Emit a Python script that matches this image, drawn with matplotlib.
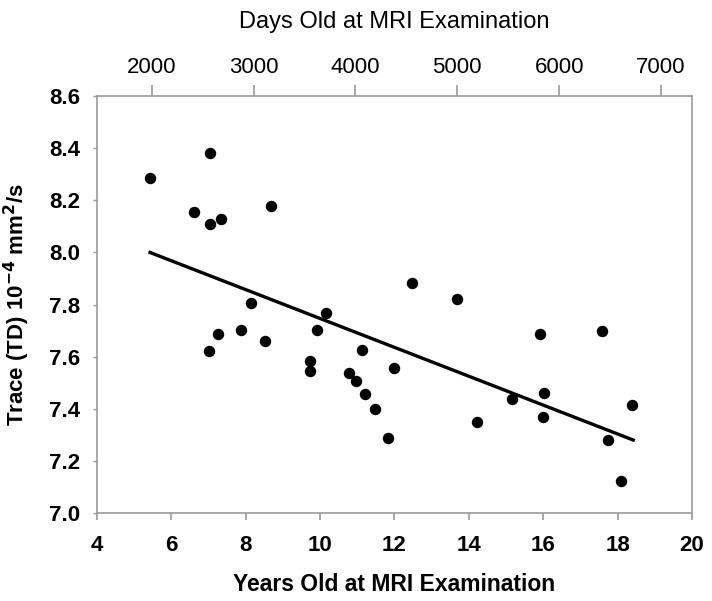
import matplotlib.pyplot as plt

# age in years and trace values
years = [5.43, 6.61, 7.04, 7.05, 7.34, 8.68, 7.01, 7.26, 7.87, 8.15,
         8.53, 9.72, 9.72, 9.93, 10.17, 10.78, 10.97, 11.13, 11.21, 11.48,
         11.83, 11.99, 12.46, 13.67, 14.22, 15.15, 15.91, 16.02, 15.99,
         17.57, 17.75, 18.09, 18.39]
trace = [8.287, 8.155, 8.383, 8.110, 8.129, 8.177, 7.623, 7.687, 7.703, 7.806,
         7.660, 7.582, 7.546, 7.701, 7.766, 7.537, 7.507, 7.627, 7.457, 7.400,
         7.289, 7.556, 7.881, 7.822, 7.348, 7.437, 7.686, 7.462, 7.367,
         7.697, 7.279, 7.123, 7.413]

# regression line end points
fit_x = [5.43, 18.42]
fit_y = [8.00, 7.28]

x_ticks = [4, 6, 8, 10, 12, 14, 16, 18, 20]
y_ticks = [7.0, 7.2, 7.4, 7.6, 7.8, 8.0, 8.2, 8.4, 8.6]
day_ticks = [2000, 3000, 4000, 5000, 6000, 7000]

plt.rcParams['font.family'] = ['Liberation Sans', 'DejaVu Sans']

fig = plt.figure(figsize=(7.12, 6.01), dpi=100)
ax = fig.add_axes([0.136, 0.1464, 0.836, 0.6936])

ax.scatter(years, trace, s=52, color='black', zorder=3)
ax.plot(fit_x, fit_y, color='black', linewidth=2.4, zorder=2)

ax.set_xlim(4, 20)
ax.set_ylim(7.0, 8.6)
ax.set_xticks(x_ticks)
ax.set_yticks(y_ticks)
ax.set_yticklabels(['%.1f' % v for v in y_ticks])

grey = '#9a9a9a'
for side in ['left', 'right', 'top', 'bottom']:
    ax.spines[side].set_color(grey)
    ax.spines[side].set_linewidth(1.2)

ax.tick_params(axis='x', direction='out', length=5, width=1.2, color=grey,
               labelsize=16, pad=11)
ax.tick_params(axis='y', direction='out', length=3, width=1.0, color=grey,
               labelsize=16, pad=9)
for lbl in ax.get_xticklabels() + ax.get_yticklabels():
    lbl.set_fontweight('bold')

ax.set_xlabel('Years Old at MRI Examination', fontsize=16.5, fontweight='bold',
              labelpad=12)
ax.set_ylabel(r'Trace (TD) 10$^{\mathbf{-4}}$ mm$^{\mathbf{2}}$/s', fontsize=16,
              fontweight='bold', labelpad=12)

# top axis: same ages expressed in days
top = ax.secondary_xaxis('top', functions=(lambda y: y * 365.25,
                                           lambda d: d / 365.25))
top.set_xticks(day_ticks)
top.spines['top'].set_visible(False)
top.tick_params(direction='out', length=8, width=1.2, color=grey,
                labelsize=16, pad=5)
top.set_xlabel('Days Old at MRI Examination', fontsize=17, labelpad=21)

fig.savefig('out.png', dpi=100)
